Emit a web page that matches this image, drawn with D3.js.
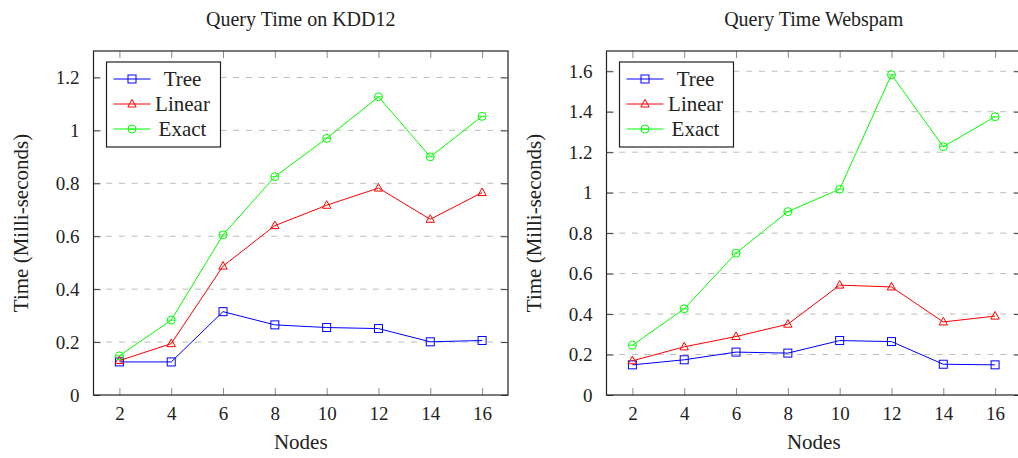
<!DOCTYPE html>
<html>
<head>
<meta charset="utf-8">
<script src="https://cdn.jsdelivr.net/npm/d3@7"></script>
<style>
  body { margin: 0; background: #fff; }
  svg { display: block; }
  svg text { font-family: "Liberation Serif", "DejaVu Serif", serif; }
  .grid line { stroke: #bdbdbd; stroke-dasharray: 6 6.7; }
  .tick-mark { stroke: #8c8c8c; }
  .frame { fill: none; stroke: #222; stroke-width: 1.2; }
</style>
</head>
<body>
<svg id="chart" width="1018" height="458"></svg>
<script>
"use strict";

// x categories (number of nodes)
const nodes = [2, 4, 6, 8, 10, 12, 14, 16];

// KDD12 query times (ms)
const kddTree   = [0.125, 0.125, 0.315, 0.265, 0.255, 0.251, 0.201, 0.206];
const kddLinear = [0.130, 0.194, 0.487, 0.640, 0.717, 0.782, 0.664, 0.765];
const kddExact  = [0.148, 0.283, 0.605, 0.825, 0.970, 1.127, 0.900, 1.053];

// Webspam query times (ms)
const webTree   = [0.149, 0.174, 0.212, 0.207, 0.269, 0.264, 0.152, 0.149];
const webLinear = [0.169, 0.238, 0.289, 0.350, 0.543, 0.534, 0.361, 0.390];
const webExact  = [0.246, 0.426, 0.701, 0.906, 1.017, 1.583, 1.227, 1.375];

const kddTicks = [0, 0.2, 0.4, 0.6, 0.8, 1, 1.2];
const webTicks = [0, 0.2, 0.4, 0.6, 0.8, 1, 1.2, 1.4, 1.6];

const seriesNames = ['Tree', 'Linear', 'Exact'];
const seriesColors = ['#0000ff', '#ff0000', '#00ff00'];
const seriesMarkers = ['square', 'triangle', 'circle'];

const svg = d3.select('#chart');

/**
 * Draws one marker centred on (0,0) inside the given selection.
 */
function drawMarker(g, kind, color) {
    if (kind === 'square') {
        g.append('rect').attr('x', -4).attr('y', -4).attr('width', 8).attr('height', 8)
            .attr('fill', 'none').attr('stroke', color);
    } else if (kind === 'triangle') {
        g.append('path').attr('d', 'M0,-4.6L4.2,3L-4.2,3Z')
            .attr('fill', 'none').attr('stroke', color);
    } else {
        g.append('circle').attr('r', 4).attr('fill', 'none').attr('stroke', color);
        // pgfplots circle marks here show a horizontal bar through the centre
        g.append('line').attr('x1', -4).attr('x2', 4).attr('stroke', color).attr('stroke-width', 0.8);
    }
}

/**
 * @param {{left:number, right:number, title:string, yMax:number, yTicks:number[], series:number[][]}} cfg
 */
function drawPanel(cfg) {
    const top = 51, bottom = 395;
    const x = d3.scaleLinear().domain([1, 17]).range([cfg.left, cfg.right]);
    const y = d3.scaleLinear().domain([0, cfg.yMax]).range([bottom, top]);
    const panel = svg.append('g');

    // dashed horizontal grid
    panel.append('g').classed('grid', true)
        .selectAll('line').data(cfg.yTicks.filter(t => t > 0)).join('line')
        .attr('x1', cfg.left).attr('x2', cfg.right)
        .attr('y1', d => y(d)).attr('y2', d => y(d));

    // inward ticks on all four sides
    const xAxisB = d3.axisBottom(x).tickValues(nodes).tickSize(-7).tickPadding(12).tickFormat(d3.format('d'));
    const xAxisT = d3.axisTop(x).tickValues(nodes).tickSize(-7).tickFormat('');
    const yAxisL = d3.axisLeft(y).tickValues(cfg.yTicks).tickSize(-7).tickPadding(14).tickFormat(d => d === 0 ? '0' : d3.format('')(d));
    const yAxisR = d3.axisRight(y).tickValues(cfg.yTicks).tickSize(-7).tickFormat('');

    const gb = panel.append('g').attr('transform', `translate(0,${bottom})`).call(xAxisB);
    const gt = panel.append('g').attr('transform', `translate(0,${top})`).call(xAxisT);
    const gl = panel.append('g').attr('transform', `translate(${cfg.left},0)`).call(yAxisL);
    const gr = panel.append('g').attr('transform', `translate(${cfg.right},0)`).call(yAxisR);
    for (const g of [gb, gt, gl, gr]) {
        g.attr('font-family', null).attr('font-size', null);
        g.select('.domain').remove();
        g.selectAll('.tick line').classed('tick-mark', true).attr('stroke', null);
        g.selectAll('text').attr('font-size', 19).attr('fill', '#222');
    }
    gl.selectAll('.tick line').style('stroke', '#444');
    gr.selectAll('.tick line').style('stroke', '#444');

    // series lines and marks
    const line = d3.line().x((d, i) => x(nodes[i])).y(d => y(d));
    cfg.series.forEach((values, s) => {
        panel.append('path').datum(values).attr('d', line)
            .attr('fill', 'none').attr('stroke', seriesColors[s]).attr('stroke-width', 1);
        panel.append('g').selectAll('g').data(values).join('g')
            .attr('transform', (d, i) => `translate(${x(nodes[i])},${y(d)})`)
            .each(function () { drawMarker(d3.select(this), seriesMarkers[s], seriesColors[s]); });
    });

    // frame
    panel.append('rect').classed('frame', true)
        .attr('x', cfg.left).attr('y', top).attr('width', cfg.right - cfg.left).attr('height', bottom - top);

    // legend
    const lx = cfg.left + 13, ly = 62;
    const legend = panel.append('g').attr('transform', `translate(${lx},${ly})`);
    legend.append('rect').attr('width', 114).attr('height', 85)
        .attr('fill', '#fff').attr('stroke', '#222').attr('stroke-width', 1.2);
    seriesNames.forEach((name, s) => {
        const row = legend.append('g').attr('transform', `translate(0,${17 + s * 25})`);
        row.append('line').attr('x1', 7).attr('x2', 44).attr('stroke', seriesColors[s]);
        drawMarker(row.append('g').attr('transform', 'translate(25.5,0)'), seriesMarkers[s], seriesColors[s]);
        row.append('text').attr('x', 76).attr('dy', '0.35em').attr('text-anchor', 'middle')
            .attr('font-size', 21).attr('fill', '#222').text(name);
    });

    // titles
    const cx = (cfg.left + cfg.right) / 2;
    panel.append('text').attr('x', cx).attr('y', 26).attr('text-anchor', 'middle')
        .attr('font-size', 20).attr('fill', '#222').text(cfg.title);
    panel.append('text').attr('x', cx).attr('y', 449).attr('text-anchor', 'middle')
        .attr('font-size', 21).attr('fill', '#222').text('Nodes');
    panel.append('text')
        .attr('transform', `translate(${cfg.left - 66},${(top + bottom) / 2}) rotate(-90)`)
        .attr('text-anchor', 'middle').attr('font-size', 21).attr('fill', '#222')
        .text('Time (Milli-seconds)');
}

drawPanel({ left: 93.5, right: 508, title: 'Query Time on KDD12', yMax: 1.3, yTicks: kddTicks,
    series: [kddTree, kddLinear, kddExact] });
drawPanel({ left: 606.5, right: 1021, title: 'Query Time Webspam', yMax: 1.7, yTicks: webTicks,
    series: [webTree, webLinear, webExact] });
</script>
</body>
</html>
